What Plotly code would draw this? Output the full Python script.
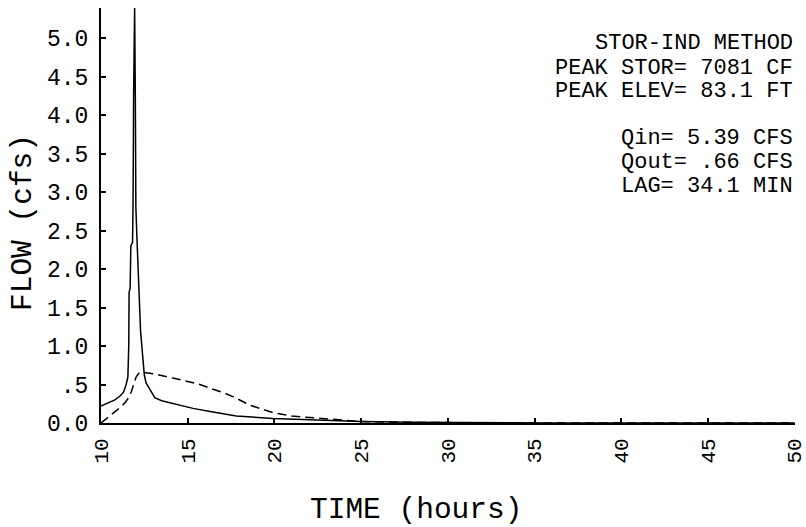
import plotly.graph_objects as go

# ---- data ----
time_in = [10.0, 10.4, 10.8, 11.1, 11.3, 11.45, 11.55, 11.6, 11.62, 11.68, 11.72, 11.82,
           11.85, 11.88, 11.94, 11.98, 12.01, 12.09, 12.18, 12.28, 12.43, 12.5, 12.6,
           12.85, 13.1, 13.5, 14.0, 15.3, 16.3, 17.8, 19.9, 21.1, 23.0, 25.0, 28.0,
           32.0, 36.0, 50.0]
flow_in = [0.22, 0.26, 0.30, 0.35, 0.40, 0.50, 0.60, 1.00, 1.70, 1.75, 2.30, 2.35,
           2.90, 4.25, 5.39, 4.20, 2.80, 2.30, 1.75, 1.20, 0.80, 0.62, 0.52,
           0.43, 0.33, 0.29, 0.26, 0.19, 0.15, 0.09, 0.06, 0.05, 0.03, 0.02, 0.01,
           0.005, 0.0, 0.0]

time_out = [10.0, 10.23, 10.5, 10.8, 11.1, 11.37, 11.6, 11.75, 11.9, 12.03, 12.2, 12.4,
            13.0, 13.45, 14.2, 15.0, 15.7, 16.3, 17.0, 17.64, 18.1, 18.6, 19.3, 20.0,
            21.0, 22.2, 23.9, 24.9, 27.0, 30.0, 33.0, 50.0]
flow_out = [0.0, 0.04, 0.09, 0.15, 0.20, 0.26, 0.33, 0.41, 0.50, 0.60, 0.65, 0.66,
            0.64, 0.62, 0.58, 0.54, 0.50, 0.45, 0.40, 0.34, 0.29, 0.23, 0.18, 0.13,
            0.09, 0.07, 0.04, 0.02, 0.01, 0.005, 0.0, 0.0]

x_ticks = [10, 15, 20, 25, 30, 35, 40, 45, 50]
x_ticktext = ["10", "15", "20", "25", "30", "35", "40", "45", "50"]
y_ticks = [0.0, 0.5, 1.0, 1.5, 2.0, 2.5, 3.0, 3.5, 4.0, 4.5, 5.0]
y_ticktext = ["0.0", ".5", "1.0", "1.5", "2.0", "2.5", "3.0", "3.5", "4.0", "4.5", "5.0"]

info_lines = ["STOR-IND METHOD", "PEAK STOR= 7081 CF", "PEAK ELEV= 83.1 FT",
              "Qin= 5.39 CFS", "Qout= .66 CFS", "LAG= 34.1 MIN"]
info_y_px = [43.5, 68, 91.5, 138.5, 162, 186]

FONT = "Liberation Mono"
INK = "black"

fig = go.Figure()
fig.add_trace(go.Scatter(x=time_in, y=flow_in, mode="lines",
                         line=dict(color=INK, width=1.5), showlegend=False))
fig.add_trace(go.Scatter(x=time_out, y=flow_out, mode="lines",
                         line=dict(color=INK, width=1.5, dash="9px,5px"), showlegend=False))

PLOT_TOP, PLOT_BOTTOM = 8, 423
PLOT_LEFT, PLOT_RIGHT = 101, 795
H = PLOT_BOTTOM - PLOT_TOP
W = PLOT_RIGHT - PLOT_LEFT

annotations = []
for txt, py in zip(info_lines, info_y_px):
    annotations.append(dict(text=txt, xref="paper", yref="paper",
                            x=1, y=(PLOT_BOTTOM - py) / H, xanchor="right", yanchor="middle",
                            xshift=-1, showarrow=False, borderpad=0,
                            font=dict(family=FONT, size=22, color=INK)))
annotations.append(dict(text="TIME (hours)", xref="paper", yref="paper",
                        x=(416 - PLOT_LEFT) / W, y=(PLOT_BOTTOM - 510) / H,
                        xanchor="center", yanchor="middle", showarrow=False,
                        font=dict(family=FONT, size=29.5, color=INK)))
annotations.append(dict(text="FLOW (cfs)", xref="paper", yref="paper",
                        x=(23 - PLOT_LEFT) / W, y=(PLOT_BOTTOM - 223) / H,
                        xanchor="center", yanchor="middle", textangle=-90, showarrow=False,
                        font=dict(family=FONT, size=29.5, color=INK)))

fig.update_layout(
    width=806, height=527,
    margin=dict(l=PLOT_LEFT, r=806 - PLOT_RIGHT, t=PLOT_TOP, b=527 - PLOT_BOTTOM, pad=0,
                autoexpand=False),
    paper_bgcolor="white", plot_bgcolor="white",
    font=dict(family=FONT, color=INK),
    annotations=annotations,
    xaxis=dict(range=[10, 50.02], tickmode="array", tickvals=x_ticks, ticktext=x_ticktext,
               tickangle=-90, ticks="inside", ticklen=5, tickwidth=1.5, tickcolor=INK,
               showline=True, linecolor=INK, linewidth=2, showgrid=False, zeroline=False,
               ticklabeloverflow="allow", automargin=False,
               tickfont=dict(family=FONT, size=21, color=INK), ticklabelstandoff=5),
    yaxis=dict(range=[0, 5.39], tickmode="array", tickvals=y_ticks, ticktext=y_ticktext,
               ticks="inside", ticklen=5, tickwidth=1.5, tickcolor=INK,
               showline=True, linecolor=INK, linewidth=2, showgrid=False, zeroline=False,
               automargin=False,
               tickfont=dict(family=FONT, size=23, color=INK), ticklabelstandoff=6),
)

fig.write_html("out.html")
